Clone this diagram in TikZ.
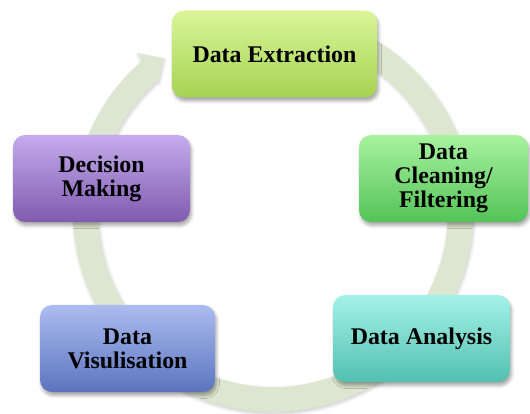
\documentclass[tikz,border=0pt]{standalone}
\usepackage{fontspec}
\setmainfont{Liberation Serif}
\usepackage{tikz}
\usetikzlibrary{shadows.blur}

\definecolor{ringcol}{RGB}{221,230,208}
\definecolor{extTop}{RGB}{218,246,152}
\definecolor{extBot}{RGB}{165,211,82}
\definecolor{clnTop}{RGB}{168,242,160}
\definecolor{clnBot}{RGB}{82,196,86}
\definecolor{anaTop}{RGB}{164,242,232}
\definecolor{anaBot}{RGB}{82,192,176}
\definecolor{visTop}{RGB}{172,188,240}
\definecolor{visBot}{RGB}{90,116,190}
\definecolor{decTop}{RGB}{196,172,236}
\definecolor{decBot}{RGB}{128,90,176}

\tikzset{
  stagebox/.style={rectangle, rounded corners=0.24cm, align=center,
    minimum height=1.74cm, inner sep=2pt,
    font=\fontsize{13.6}{13.6}\selectfont\bfseries,
    blur shadow={shadow xshift=0.03cm, shadow yshift=-0.07cm, shadow opacity=35, shadow blur steps=6}},
}

\begin{document}
\begin{tikzpicture}
        \useasboundingbox (0,0) rectangle (10.6,8.26);

        % 绘制圆环箭头
        \begin{scope}[shift={(5.46,4.02)}]
        \fill[ringcol, blur shadow={shadow xshift=0.02cm, shadow yshift=-0.04cm, shadow opacity=20, shadow blur steps=5}]
          (95:4) arc[start angle=95, end angle=-229, radius=4cm]
          -- (-229.5:4.18) -- (-234.5:3.78) -- (-228.5:3.47) -- (-229:3.5)
          arc[start angle=-229, end angle=95, radius=3.5cm] -- cycle;
        \end{scope}

        % 五个步骤
        \node[stagebox, minimum width=4.1cm, top color=extTop, bottom color=extBot] (extract) at (5.49,7.18) {Data Extraction};
        \node[stagebox, minimum width=3.38cm, top color=clnTop, bottom color=clnBot] (clean) at (8.87,4.69) {Data\\Cleaning/\\Filtering};
        \node[stagebox, minimum width=3.54cm, top color=anaTop, bottom color=anaBot] (analysis) at (8.43,1.49) {Data Analysis};
        \node[stagebox, minimum width=3.5cm, top color=visTop, bottom color=visBot] (visual) at (2.55,1.29) {Data\\Visulisation};
        \node[stagebox, minimum width=3.54cm, top color=decTop, bottom color=decBot] (decision) at (2.03,4.69) {Decision\\Making};
        \end{tikzpicture}
\end{document}
